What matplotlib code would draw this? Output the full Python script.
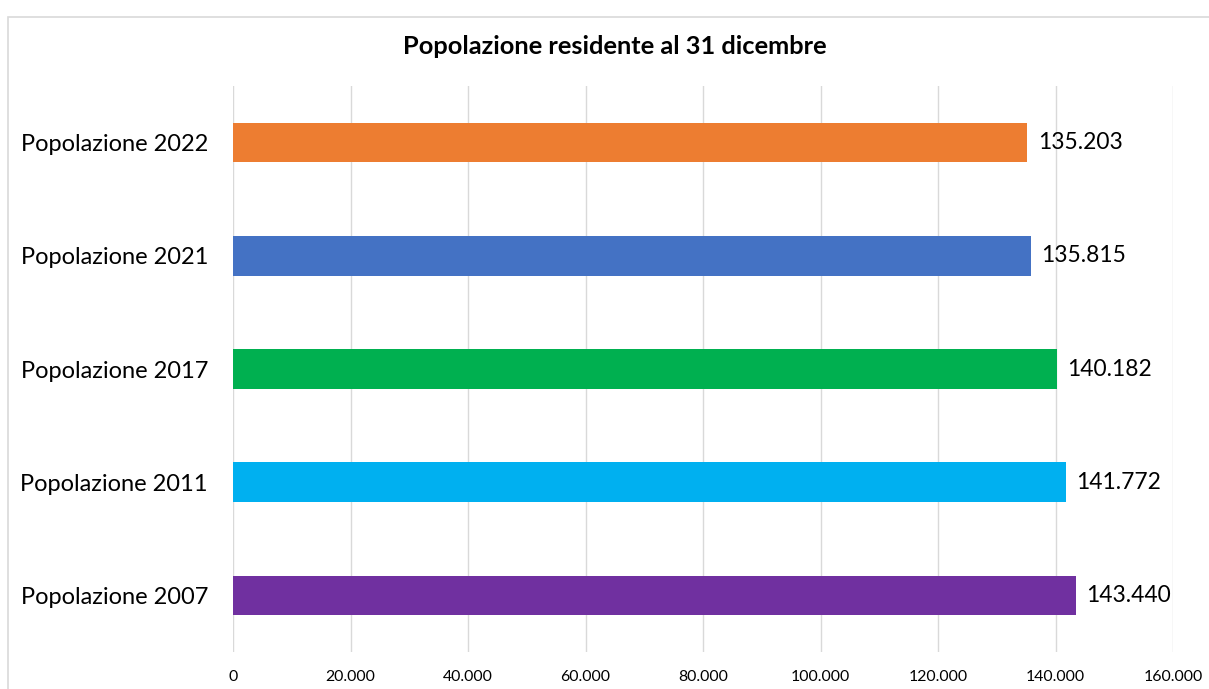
import matplotlib
matplotlib.use("Agg")
import matplotlib.pyplot as plt
import matplotlib.patches as mpatches
from matplotlib.ticker import FuncFormatter

plt.rcParams["font.family"] = ["Lato", "DejaVu Sans"]

categories = ["Popolazione 2007", "Popolazione 2011", "Popolazione 2017",
              "Popolazione 2021", "Popolazione 2022"]
values = [143440, 141772, 140182, 135815, 135203]
colors = ["#7030A0", "#00B0F0", "#00B050", "#4472C4", "#ED7D31"]
x_ticks = [0, 20000, 40000, 60000, 80000, 100000, 120000, 140000, 160000]


def fmt_it(v, _=None):
    return f"{int(v):,}".replace(",", ".")


fig = plt.figure(figsize=(12.09, 6.89), dpi=100)
ax = fig.add_axes([233 / 1209, 1 - 652 / 689, (1173 - 233) / 1209, (652 - 86) / 689])

# chart border (cropped at right and bottom in the reference)
fig.add_artist(mpatches.Rectangle((8 / 1209, -0.1), 1.1, 1 - 17 / 689 + 0.1,
                                  transform=fig.transFigure, fill=False,
                                  edgecolor="#D9D9D9", linewidth=1.2))

y = range(len(categories))
bars = ax.barh(y, values, height=0.35, color=colors, zorder=3)

for bar, v in zip(bars, values):
    ax.text(bar.get_width() + 1800, bar.get_y() + bar.get_height() / 2,
            fmt_it(v), va="center", ha="left", fontsize=16.4, color="#000000")

ax.set_xlim(0, 160000)
ax.set_ylim(-0.5, len(categories) - 0.5)
ax.set_xticks(x_ticks)
ax.xaxis.set_major_formatter(FuncFormatter(fmt_it))
ax.set_yticks(list(y))
ax.set_yticklabels(categories, fontsize=17)
ax.tick_params(axis="x", length=0, labelsize=11.4, pad=13)
ax.tick_params(axis="y", length=0, pad=18)
ax.grid(axis="x", color="#D9D9D9", linewidth=1, zorder=0)
for s in ax.spines.values():
    s.set_visible(False)

fig.text(615 / 1209, 1 - 47 / 689, "Popolazione residente al 31 dicembre",
         ha="center", va="center", fontsize=18.3, fontweight="bold")

fig.savefig("out.png", dpi=100)
